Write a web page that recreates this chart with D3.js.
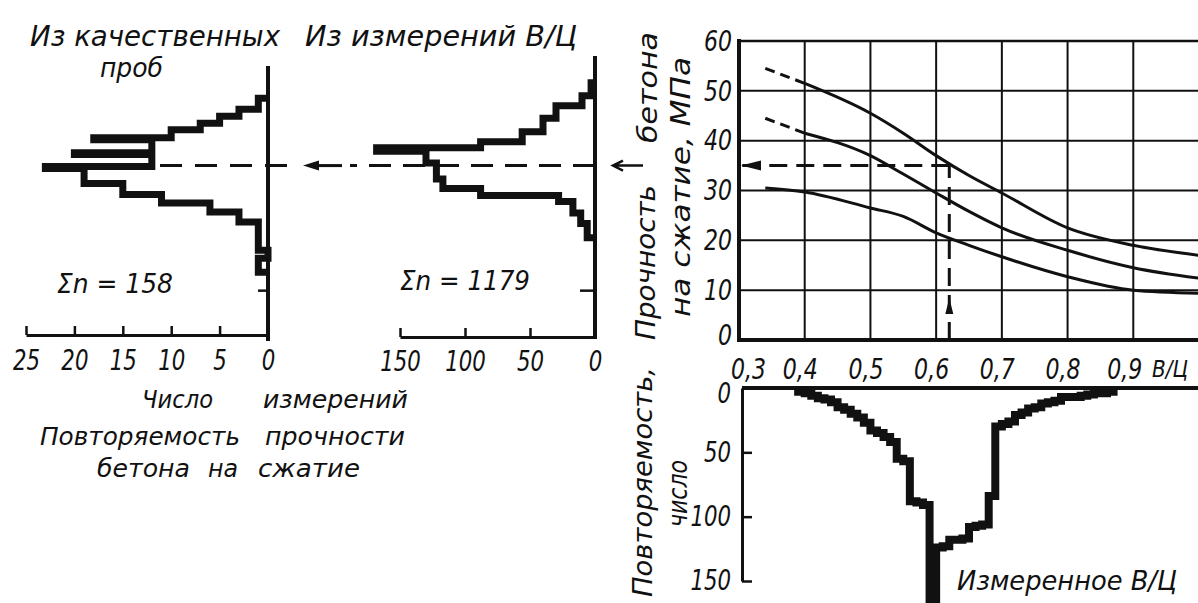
<!DOCTYPE html>
<html>
<head>
<meta charset="utf-8">
<script src="https://cdn.jsdelivr.net/npm/d3@7"></script>
<style>
  body { margin: 0; background: #fff; }
  svg text { font-family: "DejaVu Sans", sans-serif; font-style: italic; fill: #111; }
</style>
</head>
<body>
<svg id="chart" width="1198" height="603"></svg>
<script>
// strength of concrete vs W/C (three curves)
const wcPoints = [0.34, 0.4, 0.5, 0.55, 0.6, 0.65, 0.7, 0.8, 0.9, 1.0];
const strengthUpper = [54.5, 51.5, 45.5, 41.5, 37, 33, 29.5, 22.5, 19, 17];
const strengthMiddle = [44.5, 41.5, 37, 33.3, 29.5, 25.8, 22.5, 18, 14.5, 12.4];
const strengthLower = [30.5, 29.7, 26.5, 24.8, 21.5, 19, 16.7, 12.7, 10, 9.4];
const strengthTicks = [0, 10, 20, 30, 40, 50, 60];
const wcTicks = [0.3, 0.4, 0.5, 0.6, 0.7, 0.8, 0.9];
const wcRead = 0.62;
const strengthRead = 35;

// histogram of measured W/C (bin left edges, 0.01 wide)
const wcBins = [0.39, 0.40, 0.41, 0.42, 0.43, 0.44, 0.45, 0.46, 0.47, 0.48, 0.49,
  0.50, 0.51, 0.52, 0.53, 0.54, 0.55, 0.56, 0.57, 0.58, 0.59,
  0.60, 0.61, 0.62, 0.63, 0.64, 0.65, 0.66, 0.67, 0.68, 0.69,
  0.70, 0.71, 0.72, 0.73, 0.74, 0.75, 0.76, 0.77, 0.78, 0.79,
  0.80, 0.81, 0.82, 0.83, 0.84, 0.85, 0.86];
const wcCounts = [3, 4, 6, 8, 9, 11, 15, 17, 20, 23, 27,
  33, 35, 38, 42, 55, 57, 88, 89, 91, 175,
  124, 123, 118, 118, 117, 108, 107, 106, 84, 30,
  28, 26, 21, 19, 16, 15, 12, 11, 10, 7,
  7, 7, 6, 5, 4, 4, 3];
const binWidth = 0.01;
const wcCountTicks = [0, 50, 100, 150];

// strength histogram derived from W/C measurements (bin edges in MPa, top to bottom)
const measEdges = [51.6, 49, 47, 44.5, 41.8, 39.8, 38.6, 37.9, 35.5, 32.3, 30.4, 29.0, 27.8, 25.5, 23.4, 20.5];
const measCounts = [3, 10, 30, 40, 56, 88, 168, 130, 122, 117, 88, 28, 17, 11, 6];
const measTicks = [0, 50, 100, 150];

// strength histogram from quality control samples
const sampleEdges = [48.5, 46.3, 44.9, 43.5, 42.2, 40.6, 40.2, 37.6, 37.2, 34.8, 34.4, 31.4, 29.2, 27.5, 25.7, 23.7, 18, 16.4, 13.6];
const sampleCounts = [1, 3, 5, 7, 10, 18, 12, 20, 12, 23, 19, 15, 11, 6, 3, 1, 0, 1];
const sampleTicks = [0, 5, 10, 15, 20, 25];

const svg = d3.select("#chart");
const ru = d3.formatLocale({ decimal: ",", thousands: " ", grouping: [3], currency: ["", ""] });
const fmt1 = ru.format(".1f");

const x = d3.scaleLinear().domain([0.3, 1.0]).range([739, 1199]);
const y = d3.scaleLinear().domain([0, 60]).range([340, 41]);
const yN = d3.scaleLinear().domain([0, 150]).range([388, 581]);
const xSample = d3.scaleLinear().domain([0, 25]).range([268, 26]);
const xMeas = d3.scaleLinear().domain([0, 150]).range([595, 400]);

function label(txt, px, py, size, len, rotate) {
  const t = svg.append("text").attr("x", px).attr("y", py).attr("font-size", size).text(txt);
  if (len) t.attr("textLength", len).attr("lengthAdjust", "spacingAndGlyphs");
  if (rotate) t.attr("transform", `rotate(-90,${px},${py})`);
  return t;
}

// the drawing uses a narrow lettering, so tick labels are squeezed
function styleAxis(g, size) {
  g.attr("font-family", null);
  g.selectAll("line").attr("stroke", "#111").attr("stroke-width", 2.5);
  g.selectAll("text").attr("font-size", size).attr("fill", "#111")
    .style("font-family", "'DejaVu Sans', sans-serif").style("font-style", "italic")
    .each(function () {
      const w = this.getComputedTextLength();
      if (w > 0) d3.select(this).attr("textLength", w * 0.76).attr("lengthAdjust", "spacingAndGlyphs");
    });
}

// ---- main chart: grid ----
const grid = svg.append("g").attr("stroke", "#111").attr("stroke-width", 2);
grid.selectAll("line.v").data(x.ticks(7).slice(1)).join("line")
  .attr("x1", d => x(d)).attr("x2", d => x(d)).attr("y1", y(0)).attr("y2", y(60));
grid.selectAll("line.h").data(strengthTicks.slice(1)).join("line")
  .attr("x1", x(0.3)).attr("x2", x(1.0)).attr("y1", d => y(d)).attr("y2", d => y(d));

// curves, with the extrapolated start dashed
const curveLine = d3.line().x(d => x(d[0])).y(d => y(d[1])).curve(d3.curveMonotoneX);
[strengthUpper, strengthMiddle, strengthLower].forEach((s, i) => {
  const pts = wcPoints.map((w, j) => [w, s[j]]);
  const dashedStart = i < 2;
  svg.append("path").attr("d", curveLine(dashedStart ? pts.slice(1) : pts))
    .attr("fill", "none").attr("stroke", "#111").attr("stroke-width", 3);
  if (dashedStart) {
    svg.append("path").attr("d", d3.line().x(d => x(d[0])).y(d => y(d[1]))(pts.slice(0, 2)))
      .attr("fill", "none").attr("stroke", "#111").attr("stroke-width", 3)
      .attr("stroke-dasharray", "10,6");
  }
});

// reading lines: measured W/C -> strength
svg.append("line").attr("x1", x(wcRead)).attr("x2", x(wcRead)).attr("y1", y(0)).attr("y2", y(strengthRead))
  .attr("stroke", "#111").attr("stroke-width", 3).attr("stroke-dasharray", "18,9");
svg.append("line").attr("x1", x(wcRead)).attr("x2", x(0.3)).attr("y1", y(strengthRead)).attr("y2", y(strengthRead))
  .attr("stroke", "#111").attr("stroke-width", 3).attr("stroke-dasharray", "18,9");
svg.append("path")
  .attr("d", `M${x(wcRead)},${y(0) - 42}l-4,16h8z`).attr("fill", "#111");
svg.append("path")
  .attr("d", `M${x(0.3) + 2},${y(strengthRead)}l20,-5v10z`).attr("fill", "#111");

// frame
svg.append("line").attr("x1", x(0.3)).attr("x2", x(0.3)).attr("y1", y(60) - 2).attr("y2", y(0) + 2)
  .attr("stroke", "#111").attr("stroke-width", 4);
svg.append("line").attr("x1", x(0.3)).attr("x2", x(1.0)).attr("y1", y(0)).attr("y2", y(0))
  .attr("stroke", "#111").attr("stroke-width", 4);
svg.append("line").attr("x1", x(0.3)).attr("x2", x(1.0)).attr("y1", y(60)).attr("y2", y(60))
  .attr("stroke", "#111").attr("stroke-width", 2.5);

const yAxis = svg.append("g").attr("transform", `translate(${x(0.3)},0)`)
  .call(d3.axisLeft(y).tickValues(strengthTicks).tickSize(0).tickPadding(7));
yAxis.select(".domain").remove();
styleAxis(yAxis, 29);
yAxis.selectAll(".tick text").filter(d => d === 0).attr("dy", "0.15em");

const xAxis = svg.append("g").attr("transform", `translate(-5,${y(0)})`)
  .call(d3.axisBottom(x).tickValues(wcTicks).tickFormat(fmt1).tickSize(0).tickPadding(18));
xAxis.select(".domain").remove();
styleAxis(xAxis, 29);
xAxis.selectAll(".tick text").filter(d => d === 0.3).attr("dx", 14);
xAxis.selectAll(".tick text").filter(d => d === 0.9).attr("dx", -4);
label("В/Ц", 1152, 377, 23, 36);

// ---- bottom histogram: measured W/C ----
const histLine = d3.line().x(d => x(d[0])).y(d => yN(d[1]));
const wcPts = [[wcBins[0], 0]];
wcBins.forEach((b, i) => wcPts.push([b, wcCounts[i]], [b + binWidth, wcCounts[i]]));
wcPts.push([wcBins[wcBins.length - 1] + binWidth, 0]);
svg.append("path").attr("d", histLine(wcPts)).attr("fill", "none").attr("stroke", "#111")
  .attr("stroke-width", 8).attr("stroke-linejoin", "miter");
svg.append("line").attr("x1", x(0.3) + 3).attr("x2", 1198).attr("y1", yN(0)).attr("y2", yN(0))
  .attr("stroke", "#111").attr("stroke-width", 4);

const nAxis = svg.append("g").attr("transform", `translate(${x(0.3) + 3},0)`)
  .call(d3.axisLeft(yN).tickValues(wcCountTicks).tickSize(-10).tickSizeOuter(0).tickPadding(11));
nAxis.select(".domain").attr("stroke", "#111").attr("stroke-width", 3);
styleAxis(nAxis, 28);
nAxis.selectAll(".tick text").filter(d => d === 0).attr("dy", "0.5em");

// ---- strength histograms on the left ----
const measLine = d3.line().x(d => xMeas(d[0])).y(d => y(d[1]));
const sampleLine = d3.line().x(d => xSample(d[0])).y(d => y(d[1]));
function stripPts(edges, counts) {
  const p = [[0, edges[0]]];
  counts.forEach((c, i) => p.push([c, edges[i]], [c, edges[i + 1]]));
  p.push([0, edges[edges.length - 1]]);
  return p;
}

// dashed transfer line with arrows
svg.append("line").attr("x1", 287).attr("x2", 157).attr("y1", y(strengthRead)).attr("y2", y(strengthRead))
  .attr("stroke", "#111").attr("stroke-width", 3).attr("stroke-dasharray", "22,13");
svg.append("line").attr("x1", xMeas(0)).attr("x2", 350).attr("y1", y(strengthRead)).attr("y2", y(strengthRead))
  .attr("stroke", "#111").attr("stroke-width", 3).attr("stroke-dasharray", "22,12");
svg.append("line").attr("x1", 342).attr("x2", 312).attr("y1", y(strengthRead)).attr("y2", y(strengthRead))
  .attr("stroke", "#111").attr("stroke-width", 3);
svg.append("path").attr("d", `M303,${y(strengthRead)}l16,-5v10z`).attr("fill", "#111");
svg.append("path").attr("d", `M643,${y(strengthRead)}H614M623,${y(strengthRead) - 5}L613,${y(strengthRead)}L623,${y(strengthRead) + 5}`)
  .attr("fill", "none").attr("stroke", "#111").attr("stroke-width", 2.5);

svg.append("path").attr("d", measLine(stripPts(measEdges, measCounts))).attr("fill", "none")
  .attr("stroke", "#111").attr("stroke-width", 7).attr("stroke-linejoin", "miter");
svg.append("path").attr("d", sampleLine(stripPts(sampleEdges, sampleCounts))).attr("fill", "none")
  .attr("stroke", "#111").attr("stroke-width", 7).attr("stroke-linejoin", "miter");

// vertical strength axes of the two histograms
svg.append("line").attr("x1", xMeas(0)).attr("x2", xMeas(0)).attr("y1", y(57)).attr("y2", y(0) - 1)
  .attr("stroke", "#111").attr("stroke-width", 4);
svg.append("line").attr("x1", xSample(0)).attr("x2", xSample(0)).attr("y1", y(55)).attr("y2", y(0) + 1)
  .attr("stroke", "#111").attr("stroke-width", 4);
const measS = svg.append("g").attr("transform", `translate(${xMeas(0)},0)`)
  .call(d3.axisLeft(y).tickValues([10]).tickSize(15).tickFormat(""));
measS.select(".domain").remove();
styleAxis(measS, 20);
const sampleS = svg.append("g").attr("transform", `translate(${xSample(0)},0)`)
  .call(d3.axisLeft(y).tickValues([10]).tickSize(10).tickFormat(""));
sampleS.select(".domain").remove();
styleAxis(sampleS, 20);

const sAxis = svg.append("g").attr("transform", `translate(0,${y(1)})`)
  .call(d3.axisBottom(xSample).tickValues(sampleTicks).tickSize(-9).tickSizeOuter(0).tickPadding(15));
sAxis.select(".domain").attr("stroke", "#111").attr("stroke-width", 3);
styleAxis(sAxis, 28);
const mAxis = svg.append("g").attr("transform", `translate(0,${y(0.6)})`)
  .call(d3.axisBottom(xMeas).tickValues(measTicks).tickSize(-9).tickSizeOuter(0).tickPadding(14));
mAxis.select(".domain").attr("stroke", "#111").attr("stroke-width", 3);
styleAxis(mAxis, 28);

// ---- text ----
label("Из качественных", 30, 46, 28, 250);
label("проб", 100, 77, 26, 63);
label("Из измерений В/Ц", 305, 46, 28, 272);
label("Σn = 158", 57, 293, 27, 116);
label("Σn = 1179", 400, 290, 27, 130);
label("Число", 142, 408, 25, 71);
label("измерений", 263, 408, 25, 145);
label("Повторяемость", 40, 445, 25, 200);
label("прочности", 265, 445, 25, 140);
label("бетона", 97, 477, 25, 93);
label("на", 208, 477, 25, 30);
label("сжатие", 258, 477, 25, 102);

label("Прочность", 655, 340, 27, 155, true);
label("бетона", 657, 143, 27, 111, true);
label("на сжатие, МПа", 690, 317, 27, 260, true);
label("Повторяемость,", 652, 597, 27, 230, true);
label("число", 687, 527, 26, 67, true);
label("Измеренное В/Ц", 957, 590, 27, 220);
</script>
</body>
</html>
